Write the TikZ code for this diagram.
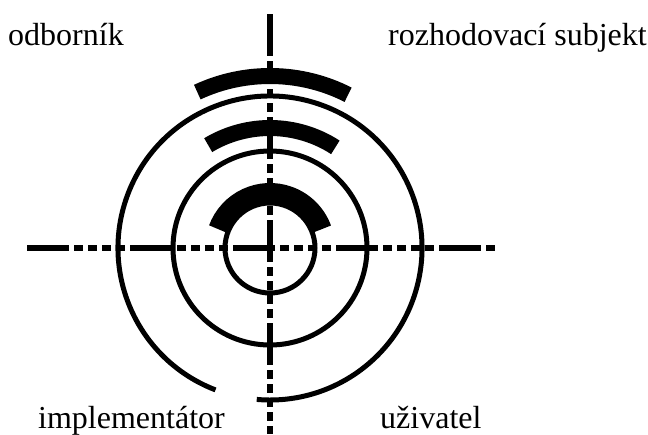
\documentclass[tikz,border=0pt]{standalone}
\usepackage{fontspec}
\setmainfont{Liberation Serif}
\tikzset{
  axis/.style={line width=6pt,
    dash pattern=on 42pt off 5pt on 9pt off 5pt on 9pt off 5pt on 9pt off 5pt on 9pt off 5pt},
  ring/.style={line width=5pt},
  blob/.style={line width=16pt},
  role/.style={font=\fontsize{32}{38}\selectfont, inner sep=0pt, anchor=base west}
}

\begin{document}
\begin{tikzpicture}[x=1pt, y=-1pt]
\useasboundingbox (0,0) rectangle (648,434);

% centre and axis ends
\coordinate (c)      at (270,248);
\coordinate (top)    at (270,14);
\coordinate (bottom) at (270,434);
\coordinate (left)   at (27,248);
\coordinate (right)  at (496,248);

% axes
\draw[axis] (top) -- (bottom);
\draw[axis] (left) -- (right);

% rings
\draw[ring] (c) circle[radius=45];
\draw[ring] (c) circle[radius=97];
\draw[ring] (c) ++(111:152) arc[start angle=111, end angle=455, radius=152];

% curved labels (unreadable in the original)
\draw[blob] (c) ++(245:172) arc[start angle=245, end angle=297, radius=172];
\draw[blob] (c) ++(239:120) arc[start angle=239, end angle=303, radius=120];
\draw[blob, line width=20pt] (c) ++(200:55) arc[start angle=200, end angle=340, radius=55];

% roles
\node[role] (expert)      at (8,45)   {odborník};
\node[role] (decider)     at (388,45) {rozhodovací subjekt};
\node[role] (implementer) at (38,428) {implementátor};
\node[role] (user)        at (380,428) {uživatel};

\end{tikzpicture}
\end{document}
